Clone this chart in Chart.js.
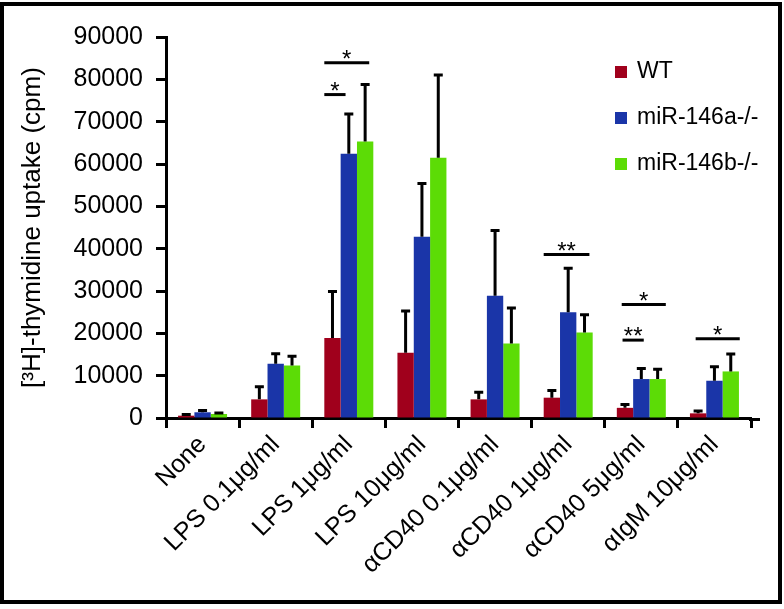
<!DOCTYPE html>
<html>
<head>
<meta charset="utf-8">
<script src="https://cdn.jsdelivr.net/npm/chart.js@4.4.1/dist/chart.umd.min.js"></script>
<style>
  html, body { margin: 0; padding: 0; background: #fff; }
  #contenedor { width: 784px; height: 609px; position: relative; }
</style>
</head>
<body>
<div id="contenedor"><canvas id="grafico"></canvas></div>
<script>
// Datos
const categorias = ['None', 'LPS 0.1μg/ml', 'LPS 1μg/ml', 'LPS 10μg/ml', 'αCD40 0.1μg/ml', 'αCD40 1μg/ml', 'αCD40 5μg/ml', 'αIgM 10μg/ml'];
const nombresSeries = ['WT', 'miR-146a-/-', 'miR-146b-/-'];

const valoresWT = [550, 4400, 18900, 15400, 4400, 4800, 2400, 1100];
const erroresWT = [250, 3000, 11000, 9900, 1700, 1700, 800, 550];
const valores146a = [1350, 12800, 62400, 42800, 28900, 25000, 9200, 8800];
const errores146a = [400, 2400, 9400, 12600, 15400, 10400, 2500, 3300];
const valores146b = [950, 12400, 65300, 61500, 17600, 20200, 9200, 11000];
const errores146b = [250, 2200, 13500, 19500, 8400, 4200, 2300, 4100];

const ticksY = [0, 10000, 20000, 30000, 40000, 50000, 60000, 70000, 80000, 90000];

// Líneas de significancia: grupo, inicio/fin (en anchos de barra), altura, texto
const sigGrupo = [2, 2, 5, 6, 6, 7];
const sigInicio = [0, 0, 0, 0.3, 0.35, 0.35];
const sigFin = [2.75, 1.3, 2.8, 3.0, 1.65, 3.05];
const sigAltura = [83900, 76400, 38600, 26800, 18400, 18700];
const sigTexto = ['*', '*', '**', '*', '**', '*'];

const colores = ['#A0001C', '#1A35A8', '#5CDC06'];
const fuente = '"Liberation Sans", Arial, Helvetica, sans-serif';

Chart.defaults.font.family = fuente;
Chart.defaults.color = '#000';

// Barras de error (solo hacia arriba, con tope)
const pluginErrores = {
    id: 'errores',
    afterDatasetsDraw(chart) {
        const { ctx } = chart;
        const y = chart.scales.y;
        ctx.save();
        ctx.strokeStyle = '#000';
        ctx.lineWidth = 3;
        chart.data.datasets.forEach((ds, i) => {
            chart.getDatasetMeta(i).data.forEach((barra, j) => {
                const yTope = y.getPixelForValue(ds.data[j] + ds.errores[j]);
                ctx.beginPath();
                ctx.moveTo(barra.x, barra.y);
                ctx.lineTo(barra.x, yTope);
                ctx.moveTo(barra.x - 4.5, yTope);
                ctx.lineTo(barra.x + 4.5, yTope);
                ctx.stroke();
            });
        });
        ctx.restore();
    }
};

// Líneas y asteriscos de significancia
const pluginSignificancia = {
    id: 'significancia',
    afterDatasetsDraw(chart) {
        const { ctx } = chart;
        const y = chart.scales.y;
        const meta = chart.getDatasetMeta(0);
        ctx.save();
        ctx.strokeStyle = '#000';
        ctx.fillStyle = '#000';
        ctx.lineWidth = 3;
        ctx.font = '24px ' + fuente;
        ctx.textAlign = 'center';
        ctx.textBaseline = 'alphabetic';
        for (let k = 0; k < sigGrupo.length; k++) {
            const barra = meta.data[sigGrupo[k]];
            const izq = barra.x - barra.width / 2;
            const x1 = izq + sigInicio[k] * barra.width;
            const x2 = izq + sigFin[k] * barra.width;
            const yy = y.getPixelForValue(sigAltura[k]);
            ctx.beginPath();
            ctx.moveTo(x1, yy);
            ctx.lineTo(x2, yy);
            ctx.stroke();
            ctx.fillText(sigTexto[k], (x1 + x2) / 2, yy + 4);
        }
        ctx.restore();
    }
};

// Leyenda dentro del área, arriba a la derecha
const pluginLeyenda = {
    id: 'leyendaPropia',
    afterDraw(chart) {
        const { ctx } = chart;
        ctx.save();
        ctx.font = '23px ' + fuente;
        ctx.textBaseline = 'middle';
        ctx.textAlign = 'left';
        chart.data.datasets.forEach((ds, i) => {
            const yc = 72 + i * 46;
            ctx.fillStyle = ds.backgroundColor;
            ctx.fillRect(615, yc - 6, 12, 12);
            ctx.fillStyle = '#000';
            ctx.fillText(ds.label, 637, yc);
        });
        ctx.restore();
    }
};

// Marco negro y prolongación del eje x
const pluginMarco = {
    id: 'marco',
    afterDraw(chart) {
        const { ctx, chartArea } = chart;
        ctx.save();
        ctx.strokeStyle = '#000';
        ctx.lineWidth = 3;
        ctx.beginPath();
        ctx.moveTo(chartArea.right - 2, chartArea.bottom + 1.5);
        ctx.lineTo(chartArea.right + 9, chartArea.bottom + 1.5);
        ctx.stroke();
        ctx.lineWidth = 4;
        ctx.strokeRect(2, 4, 778, 598);
        ctx.restore();
    }
};

const series = [
    { valores: valoresWT, errores: erroresWT },
    { valores: valores146a, errores: errores146a },
    { valores: valores146b, errores: errores146b }
];

const ctx = document.getElementById('grafico').getContext('2d');
new Chart(ctx, {
    type: 'bar',
    data: {
        labels: categorias,
        datasets: series.map((s, i) => ({
            label: nombresSeries[i],
            data: s.valores,
            errores: s.errores,
            backgroundColor: colores[i],
            borderWidth: 0,
            categoryPercentage: 0.67,
            barPercentage: 1
        }))
    },
    options: {
        responsive: true,
        maintainAspectRatio: false,
        animation: false,
        layout: { padding: { top: 37, right: 33, bottom: 0, left: 0 } },
        plugins: {
            legend: { display: false },
            tooltip: { enabled: false }
        },
        scales: {
            x: {
                grid: { display: true, drawOnChartArea: false, drawTicks: true, tickLength: 10, tickWidth: 3, tickColor: '#000', offset: true },
                border: { display: true, width: 3, color: '#000' },
                ticks: { color: '#000', font: { size: 25 }, minRotation: 45, maxRotation: 45, autoSkip: false, padding: 2 },
                afterFit: (s) => { s.height = 191; }
            },
            y: {
                min: 0,
                max: 90000,
                afterBuildTicks: (s) => { s.ticks = ticksY.map(v => ({ value: v })); },
                grid: { display: true, drawOnChartArea: false, drawTicks: true, tickLength: 10, tickWidth: 3, tickColor: '#000' },
                border: { display: true, width: 3, color: '#000' },
                ticks: { color: '#000', font: { size: 25 }, padding: 13, callback: (v) => String(v) },
                title: {
                    display: true,
                    text: '[³H]-thymidine uptake (cpm)',
                    color: '#000',
                    font: { size: 26 },
                    padding: { top: 17, bottom: 0 }
                },
                afterFit: (s) => { s.width = 166; }
            }
        }
    },
    plugins: [pluginErrores, pluginSignificancia, pluginLeyenda, pluginMarco]
});
</script>
</body>
</html>
